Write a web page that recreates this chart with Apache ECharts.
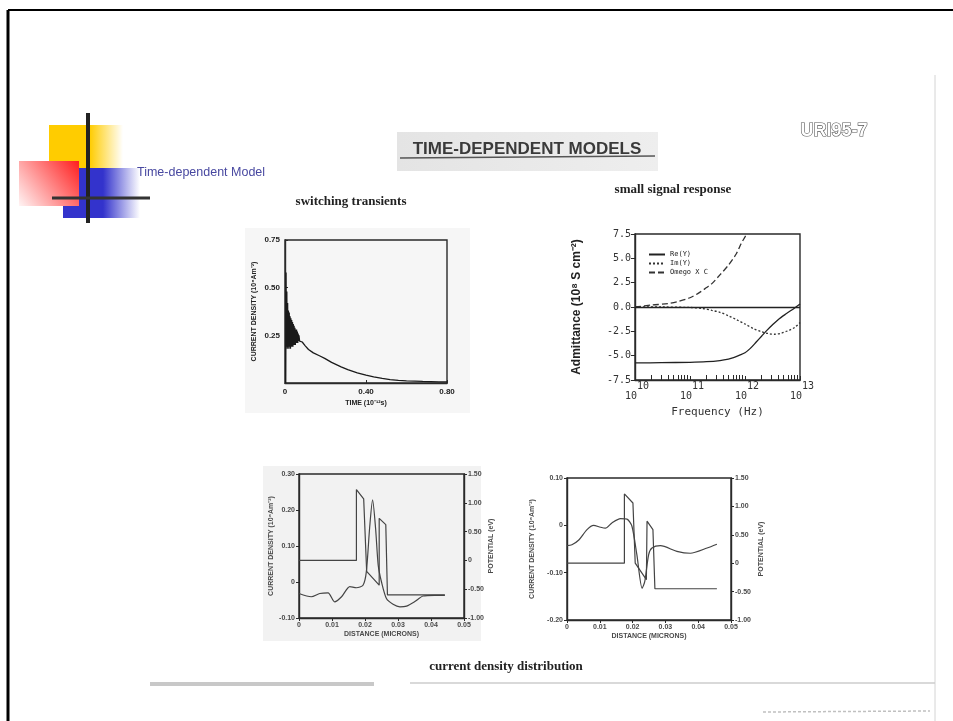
<!DOCTYPE html>
<html><head><meta charset="utf-8">
<script src="https://cdn.jsdelivr.net/npm/echarts@6/dist/echarts.min.js"></script>
<style>html,body{margin:0;padding:0;background:#fff}#c{width:953px;height:721px}</style>
</head><body><div id="c"></div>
<script>
// ---------- Chart 1: switching transients ----------
var time1 = [0.003,0.005,0.007,0.009,0.011,0.013,0.015,0.017,0.019,0.021,0.023,0.025,0.027,0.029,0.031,0.033,0.035,0.037,0.039,0.041,0.043,0.045,0.047,0.049,0.051,0.053,0.055,0.057,0.059,0.061,0.063,0.065,0.067,0.069,0.072,0.076,0.085,0.10,0.116,0.14,0.17,0.196,0.23,0.277,0.31,0.357,0.40,0.438,0.48,0.519,0.56,0.60,0.68,0.76,0.80];
var curr1 = [0.0,0.58,0.19,0.48,0.18,0.42,0.19,0.38,0.18,0.37,0.19,0.35,0.18,0.34,0.19,0.33,0.19,0.32,0.19,0.31,0.20,0.30,0.20,0.29,0.20,0.28,0.21,0.28,0.21,0.27,0.21,0.26,0.22,0.25,0.22,0.23,0.215,0.195,0.176,0.158,0.143,0.129,0.108,0.085,0.07,0.053,0.041,0.032,0.024,0.018,0.014,0.011,0.008,0.006,0.006];
var ticks1x = ['0','0.40','0.80'];
var ticks1y = ['','0.25','0.50','0.75'];

// ---------- Chart 2: small signal response ----------
var freqRe = [1e10,3e10,1e11,2e11,3.5e11,5e11,6.2e11,8e11,1e12,1.25e12,1.6e12,2e12,2.5e12,3.2e12,4e12,5.6e12,8e12,1e13];
var reY    = [-5.75,-5.72,-5.68,-5.62,-5.5,-5.35,-5.2,-4.95,-4.7,-4.25,-3.6,-3.0,-2.4,-1.8,-1.3,-0.7,-0.1,0.3];
var freqIm = [1e10,3e10,1e11,1.7e11,2.5e11,3.5e11,5e11,7e11,1e12,1.4e12,2e12,2.8e12,3.5e12,4.5e12,6e12,8e12,1e13];
var imY    = [0,0,-0.05,-0.15,-0.35,-0.55,-0.9,-1.3,-1.75,-2.2,-2.55,-2.75,-2.8,-2.7,-2.45,-2.1,-1.6];
var freqWC = [1e10,2e10,4e10,6e10,1e11,1.5e11,2e11,2.5e11,3.5e11,5e11,7e11,8.5e11,1e12,1.07e12];
var wC     = [0.0,0.2,0.35,0.55,0.95,1.5,2.0,2.4,3.3,4.3,5.5,6.5,7.2,7.5];
var minorFreqs = [2e10,3e10,4e10,5e10,6e10,7e10,8e10,9e10,2e11,3e11,4e11,5e11,6e11,7e11,8e11,9e11,2e12,3e12,4e12,5e12,6e12,7e12,8e12,9e12];
var expLabels = ['10','11','12','13'];

// ---------- Chart 3: current density distribution (left) ----------
var dist3Pot = [0,0.0174,0.0174,0.0196,0.0205,0.0243,0.0243,0.0263,0.0268,0.0442];
var pot3     = [0,0,1.23,1.07,-0.19,-0.43,0.73,0.62,-0.60,-0.60];
var dist3Cur = [0,0.0037,0.0063,0.0088,0.0108,0.0129,0.0154,0.0174,0.0194,0.0204,0.0214,0.0223,0.0232,0.024,0.025,0.0265,0.0285,0.0306,0.0326,0.035,0.0376,0.041,0.0442];
var cur3     = [-0.032,-0.041,-0.032,-0.030,-0.055,-0.041,-0.013,-0.016,-0.009,0.028,0.15,0.228,0.15,0.047,0.0,-0.046,-0.062,-0.069,-0.067,-0.055,-0.039,-0.037,-0.037];

// ---------- Chart 4: current density distribution (right) ----------
var dist4Pot = [0,0.0175,0.0175,0.0201,0.0208,0.0242,0.0244,0.0262,0.0268,0.0457];
var pot4     = [0,0,1.22,1.06,0.0,-0.29,0.74,0.59,-0.45,-0.45];
var dist4Cur = [0,0.0015,0.0036,0.0061,0.0081,0.0102,0.0117,0.0137,0.0163,0.0183,0.0198,0.0213,0.0229,0.0237,0.0249,0.0259,0.0285,0.0335,0.0376,0.0427,0.0457];
var cur4     = [-0.043,-0.041,-0.031,-0.009,0.0,-0.004,-0.006,0.005,0.014,0.013,-0.002,-0.062,-0.133,-0.119,-0.062,-0.048,-0.043,-0.055,-0.059,-0.048,-0.040];

var ticksDist = ['0','0.01','0.02','0.03','0.04','0.05'];
var ticks3L = ['-0.10','0','0.10','0.20','0.30'];
var ticks4L = ['-0.20','-0.10','0','0.10'];
var ticksPot = ['-1.00','-0.50','0','0.50','1.00','1.50'];

function zip(a,b){return a.map(function(v,i){return [v,b[i]];});}

var INK = '#2a2a2a';
var small = {fontSize:7, fontWeight:'bold', color:'#4a4a4a', fontFamily:'Liberation Sans'};
function axBase(extra){
  var o = {
    axisLine:{show:true, onZero:false, lineStyle:{color:INK, width:1.4}},
    axisTick:{show:true, length:3, lineStyle:{color:INK}},
    splitLine:{show:false},
    nameTextStyle:Object.assign({}, small),
    axisLabel:Object.assign({margin:4}, small)
  };
  for (var k in extra) {
    if (typeof extra[k]==='object' && o[k] && !Array.isArray(extra[k])) o[k]=Object.assign({}, o[k], extra[k]);
    else o[k]=extra[k];
  }
  return o;
}
function lab(arr){return function(v,i){return arr[i];};}

var chart = echarts.init(document.getElementById('c'), null, {renderer:'canvas'});
var gridStyle = {show:true, borderColor:INK, borderWidth:1.4, backgroundColor:'transparent'};

var option = {
  animation:false,
  backgroundColor:'#ffffff',
  grid:[
    Object.assign({left:285, top:240, width:162, height:143}, gridStyle),
    Object.assign({left:635, top:234, width:165, height:146}, gridStyle),
    Object.assign({left:299, top:474, width:165, height:144}, gridStyle),
    Object.assign({left:567, top:478, width:164, height:142}, gridStyle)
  ],
  legend:{
    data:['Re(Y)','Im(Y)','Omego X C'],
    left:643, top:246, orient:'vertical', itemWidth:16, itemHeight:6, itemGap:2,
    itemStyle:{opacity:0},
    textStyle:{fontSize:7, fontFamily:'DejaVu Sans Mono', color:'#222'}
  },
  xAxis:[
    axBase({gridIndex:0, type:'value', min:0, max:0.8, interval:0.4,
      axisTick:{inside:true, length:3},
      axisLabel:{fontSize:8, color:'#222', margin:5, formatter:lab(ticks1x)},
      name:'TIME (10\u207B\u00B9\u00B2s)', nameLocation:'middle', nameGap:17,
      nameTextStyle:{fontSize:7, color:'#222'}}),
    {gridIndex:1, type:'log', logBase:10, min:1e10, max:1e13,
      axisLine:{show:true, onZero:false, lineStyle:{color:INK, width:1.4}},
      axisTick:{show:true, inside:true, length:4, lineStyle:{color:INK}},
      splitLine:{show:false},
      axisLabel:{margin:1, formatter:function(v,i){return '{b|10}{e|'+expLabels[i]+'}';},
        rich:{b:{fontSize:10, fontFamily:'DejaVu Sans Mono', color:'#333', lineHeight:20, verticalAlign:'bottom', padding:[0,0,0,4]},
              e:{fontSize:10, fontFamily:'DejaVu Sans Mono', color:'#333', lineHeight:20, verticalAlign:'top', padding:[0,0,8,0]}}},
      name:'Frequency (Hz)', nameLocation:'middle', nameGap:27,
      nameTextStyle:{fontSize:11, fontFamily:'DejaVu Sans Mono', color:'#333'}},
    {gridIndex:1, type:'log', logBase:10, min:1e10, max:1e13, position:'bottom',
      axisLine:{show:false, onZero:false}, axisLabel:{show:false}, splitLine:{show:false},
      axisTick:{show:true, inside:true, length:5, customValues:minorFreqs, lineStyle:{color:INK}}},
    axBase({gridIndex:2, type:'value', min:0, max:0.05, interval:0.01,
      axisLabel:{formatter:lab(ticksDist)},
      name:'DISTANCE (MICRONS)', nameLocation:'middle', nameGap:13}),
    axBase({gridIndex:3, type:'value', min:0, max:0.05, interval:0.01,
      axisLabel:{formatter:lab(ticksDist)},
      name:'DISTANCE (MICRONS)', nameLocation:'middle', nameGap:13})
  ],
  yAxis:[
    axBase({gridIndex:0, type:'value', min:0, max:0.75, interval:0.25,
      axisTick:{inside:true, length:3},
      axisLabel:{fontSize:8, color:'#222', margin:5, formatter:lab(ticks1y)},
      name:'CURRENT DENSITY (10\u2078Am\u207B\u00B2)', nameLocation:'middle', nameGap:27, nameRotate:90,
      nameTextStyle:{fontSize:7, color:'#222'}}),
    {gridIndex:1, type:'value', min:-7.5, max:7.5, interval:2.5,
      axisLine:{show:true, onZero:false, lineStyle:{color:INK, width:1.4}},
      axisTick:{show:true, length:4, lineStyle:{color:INK}},
      splitLine:{show:false},
      axisLabel:{margin:4, fontSize:10, fontFamily:'DejaVu Sans Mono', color:'#333', formatter:function(v){return v.toFixed(1);}},
      name:'Admittance (10\u2078 S cm\u207B\u00B2)', nameLocation:'middle', nameGap:52, nameRotate:90,
      nameTextStyle:{fontSize:12, fontWeight:'bold', fontFamily:'Liberation Sans', color:'#222'}},
    axBase({gridIndex:2, type:'value', min:-0.1, max:0.3, interval:0.1,
      axisLabel:{formatter:lab(ticks3L)},
      name:'CURRENT DENSITY (10\u2078Am\u207B\u00B2)', nameLocation:'middle', nameGap:24, nameRotate:90}),
    axBase({gridIndex:2, type:'value', min:-1, max:1.5, interval:0.5, position:'right',
      axisLabel:{formatter:lab(ticksPot)},
      name:'POTENTIAL (eV)', nameLocation:'middle', nameGap:24, nameRotate:90}),
    axBase({gridIndex:3, type:'value', min:-0.2, max:0.1, interval:0.1,
      axisLabel:{formatter:lab(ticks4L)},
      name:'CURRENT DENSITY (10\u2078Am\u207B\u00B2)', nameLocation:'middle', nameGap:31, nameRotate:90}),
    axBase({gridIndex:3, type:'value', min:-1, max:1.5, interval:0.5, position:'right',
      axisLabel:{formatter:lab(ticksPot)},
      name:'POTENTIAL (eV)', nameLocation:'middle', nameGap:27, nameRotate:90})
  ],
  series:[
    {type:'line', name:'transient', xAxisIndex:0, yAxisIndex:0, data:zip(time1,curr1), symbol:'none',
      lineStyle:{color:'#1a1a1a', width:1.3}},
    {type:'line', name:'Re(Y)', xAxisIndex:1, yAxisIndex:1, data:zip(freqRe,reY), symbol:'none', smooth:0.3,
      lineStyle:{color:'#222', width:1.3, type:'solid'}, itemStyle:{color:'#222'},
      markLine:{silent:true, symbol:['none','none'], label:{show:false},
        lineStyle:{color:'#222', width:1.3, type:'solid'}, data:[{yAxis:0}]}},
    {type:'line', name:'Im(Y)', xAxisIndex:1, yAxisIndex:1, data:zip(freqIm,imY), symbol:'none', smooth:0.3,
      lineStyle:{color:'#333', width:1.3, type:[2,2]}, itemStyle:{color:'#333'}},
    {type:'line', name:'Omego X C', xAxisIndex:1, yAxisIndex:1, data:zip(freqWC,wC), symbol:'none', smooth:0.3,
      lineStyle:{color:'#333', width:1.3, type:[6,3]}, itemStyle:{color:'#333'}},
    {type:'line', name:'pot3', xAxisIndex:3, yAxisIndex:3, data:zip(dist3Pot,pot3), symbol:'none',
      lineStyle:{color:'#444', width:1.2}},
    {type:'line', name:'cur3', xAxisIndex:3, yAxisIndex:2, data:zip(dist3Cur,cur3), symbol:'none', smooth:0.25,
      lineStyle:{color:'#444', width:1.2}},
    {type:'line', name:'pot4', xAxisIndex:4, yAxisIndex:5, data:zip(dist4Pot,pot4), symbol:'none',
      lineStyle:{color:'#444', width:1.2}},
    {type:'line', name:'cur4', xAxisIndex:4, yAxisIndex:4, data:zip(dist4Cur,cur4), symbol:'none', smooth:0.25,
      lineStyle:{color:'#444', width:1.2}}
  ],
  graphic:{elements:[
    {type:'rect', z:-10, shape:{x:245,y:228,width:225,height:185}, style:{fill:'#f6f6f6'}},
    {type:'rect', z:-10, shape:{x:263,y:466,width:218,height:175}, style:{fill:'#f2f2f2'}},
    {type:'line', shape:{x1:8,y1:10,x2:953,y2:10}, style:{stroke:'#000', lineWidth:2}},
    {type:'line', shape:{x1:8,y1:10,x2:8,y2:721}, style:{stroke:'#000', lineWidth:3}},
    {type:'line', shape:{x1:935,y1:75,x2:935,y2:721}, style:{stroke:'#d4d4d4', lineWidth:1}},
    {type:'rect', shape:{x:49,y:125,width:74,height:43}, style:{fill:{type:'linear',x:0,y:0,x2:1,y2:0,colorStops:[{offset:0,color:'#ffcc00'},{offset:0.55,color:'#ffcc00'},{offset:1,color:'rgba(255,204,0,0)'}]}}},
    {type:'rect', shape:{x:63,y:168,width:77,height:50}, style:{fill:{type:'linear',x:0,y:0,x2:1,y2:0,colorStops:[{offset:0,color:'#3333cc'},{offset:0.52,color:'#3333cc'},{offset:1,color:'rgba(51,51,204,0)'}]}}},
    {type:'rect', shape:{x:19,y:161,width:60,height:45}, style:{fill:{type:'linear',x:1,y:0,x2:0,y2:1,colorStops:[{offset:0,color:'#ff1e1e'},{offset:1,color:'#fff4f4'}]}}},
    {type:'line', shape:{x1:88,y1:113,x2:88,y2:223}, style:{stroke:'#222', lineWidth:4}},
    {type:'line', shape:{x1:52,y1:198,x2:150,y2:198}, style:{stroke:'#333', lineWidth:3}},
    {type:'text', style:{text:'Time-dependent Model', x:137, y:173, textVerticalAlign:'middle', font:'12.5px "Liberation Sans"', fill:'#4848a0'}},
    {type:'rect', z:-5, shape:{x:397,y:132,width:261,height:39}, style:{fill:{type:'linear',x:0,y:0,x2:1,y2:0,colorStops:[{offset:0,color:'#e4e4e4'},{offset:1,color:'#eeeeee'}]}}},
    {type:'text', style:{text:'TIME-DEPENDENT MODELS', x:527, y:149, textAlign:'center', textVerticalAlign:'middle', font:'bold 17px "Liberation Sans"', fill:'#3a3a3a'}},
    {type:'line', shape:{x1:400,y1:158,x2:655,y2:156}, style:{stroke:'#555', lineWidth:1.5}},
    {type:'text', style:{text:'URI95-7', x:834, y:131, textAlign:'center', textVerticalAlign:'middle', font:'bold 18px "Liberation Sans"', fill:'#ffffff', stroke:'#555', lineWidth:1.2}},
    {type:'text', style:{text:'small signal response', x:673, y:190, textAlign:'center', textVerticalAlign:'middle', font:'bold 13px "Liberation Serif"', fill:'#222'}},
    {type:'text', style:{text:'switching transients', x:351, y:202, textAlign:'center', textVerticalAlign:'middle', font:'bold 13px "Liberation Serif"', fill:'#222'}},
    {type:'text', style:{text:'current density distribution', x:506, y:667, textAlign:'center', textVerticalAlign:'middle', font:'bold 13px "Liberation Serif"', fill:'#222'}},
    {type:'rect', shape:{x:150,y:682,width:224,height:4}, style:{fill:'#c8c8c8'}},
    {type:'line', shape:{x1:410,y1:683,x2:935,y2:683}, style:{stroke:'#cccccc', lineWidth:1.5}},
    {type:'line', shape:{x1:763,y1:712,x2:930,y2:711}, style:{stroke:'#c0c0c0', lineWidth:1.5, lineDash:[3,2]}}
  ]}
};
chart.setOption(option);
</script>
</body></html>
